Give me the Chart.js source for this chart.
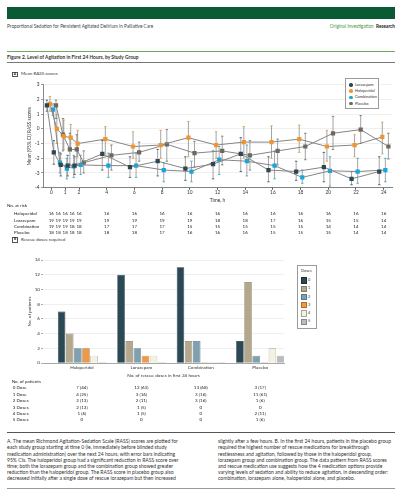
<!DOCTYPE html>
<html>
<head>
<meta charset="utf-8">
<script src="https://cdn.jsdelivr.net/npm/chart.js@4.4.0/dist/chart.umd.min.js"></script>
<style>
  html, body { margin: 0; padding: 0; background: #fff; }
  body { width: 405px; height: 500px; position: relative; overflow: hidden; font-family: Lato, "Open Sans", sans-serif; color: #222; }
  .lbl { position: absolute; white-space: nowrap; line-height: 1; }
  .rule { position: absolute; left: 7px; width: 388px; }
  canvas { position: absolute; }
  .tag { position: absolute; width: 4px; height: 3.6px; border: 0.6px solid #555; font-size: 3.4px; font-weight: 700; text-align: center; line-height: 3.8px; }
  .legend { position: absolute; border: 0.7px solid #9a9a9a; background: #fff; }
  .cap p { margin: 0; white-space: nowrap; }
</style>
</head>
<body>

<!-- page header -->
<div style="position:absolute;left:7px;top:6.7px;width:388px;height:12.6px;background:#0a5a34"></div>
<div class="lbl" style="left:7px;top:23.8px;font-size:4.7px;color:#444">Proportional Sedation for Persistent Agitated Delirium in Palliative Care</div>
<div class="lbl" style="right:10px;top:23.8px;font-size:4.7px"><span style="color:#4b9a45">Original Investigation</span>&nbsp;&nbsp;<span style="font-weight:700;color:#222">Research</span></div>
<div class="rule" style="top:50.5px;height:1px;background:#6cae55"></div>
<div class="lbl" style="left:7px;top:54.5px;font-size:4.9px;font-weight:700;color:#333">Figure 2. Level of Agitation in First 24 Hours, by Study Group</div>
<div class="rule" style="top:62px;height:0.7px;background:#777"></div>

<!-- panel A -->
<div class="tag" style="left:12px;top:71.8px">A</div>
<div class="lbl" style="left:21px;top:71.8px;font-size:4.5px;color:#333">Mean RASS scores</div>
<canvas id="rass-chart" width="378" height="126" style="left:27px;top:78px;width:378px;height:126px"></canvas>
<div class="legend" id="rass-legend" style="left:345px;top:78.3px;width:31.5px;height:29px"></div>
<div class="lbl" style="left:7px;top:203.8px;font-size:4.5px">No. at risk</div>

<!-- panel B -->
<div class="tag" style="left:12px;top:237.4px">B</div>
<div class="lbl" style="left:21px;top:237.6px;font-size:4.5px;color:#333">Rescue doses required</div>
<canvas id="dose-chart" width="265" height="126" style="left:27px;top:252px;width:265px;height:126px"></canvas>
<div class="legend" id="dose-legend" style="left:296.5px;top:265px;width:18.5px;height:61.5px"></div>
<div class="lbl" style="left:11.7px;top:380px;font-size:4.5px">No. of patients</div>

<div class="rule" style="top:431.8px;height:0.8px;background:#555"></div>
<div class="cap lbl" style="left:7px;top:438.2px;font-size:5.05px;line-height:6.15px;color:#333">
<p>A. The mean Richmond Agitation-Sedation Scale (RASS) scores are plotted for</p>
<p>each study group starting at time 0 (ie, immediately before blinded study</p>
<p>medication administration) over the next 24 hours, with error bars indicating</p>
<p>95% CIs. The haloperidol group had a significant reduction in RASS score over</p>
<p>time; both the lorazepam group and the combination group showed greater</p>
<p>reduction than the haloperidol group. The RASS score in placebo group also</p>
<p>decreased initially after a single dose of rescue lorazepam but then increased</p>
</div>
<div class="cap lbl" style="left:218px;top:438.2px;font-size:5.05px;line-height:6.15px;color:#333">
<p>slightly after a few hours. B. In the first 24 hours, patients in the placebo group</p>
<p>required the highest number of rescue medications for breakthrough</p>
<p>restlessness and agitation, followed by those in the haloperidol group,</p>
<p>lorazepam group and combination group. The data pattern from RASS scores</p>
<p>and rescue medication use suggests how the 4 medication options provide</p>
<p>varying levels of sedation and ability to reduce agitation, in descending order:</p>
<p>combination, lorazepam alone, haloperidol alone, and placebo.</p>
</div>
<div class="rule" style="top:487.8px;height:0.7px;background:#999"></div>

<script>
// ---- Data: panel A, mean RASS (95% CI) ----
const times = [0, 0.5, 1, 1.5, 2, 4, 6, 8, 10, 12, 14, 16, 18, 20, 22, 24];
const timeTicks = [0, 1, 2, 4, 6, 8, 10, 12, 14, 16, 18, 20, 22, 24];

const lorazepamMean = [1.6, -1.6, -2.45, -2.5, -2.5, -1.7, -2.6, -2.2, -2.7, -2.4, -1.7, -2.8, -2.9, -2.6, -3.4, -2.9];
const lorazepamLow  = [1.2, -2.4, -3.2, -3.2, -3.1, -2.8, -3.3, -3.2, -3.5, -3.4, -2.9, -3.6, -3.5, -3.6, -3.8, -3.8];
const lorazepamHigh = [1.95, -0.8, -1.7, -1.8, -1.9, -0.8, -1.9, -1.4, -1.9, -1.5, -0.6, -1.9, -2.2, -1.6, -2.9, -1.9];

const haloperidolMean = [1.7, 0.0, -0.5, -0.6, -1.0, -0.7, -1.2, -1.1, -0.6, -1.1, -0.9, -0.9, -0.7, -1.2, -1.1, -0.55];
const haloperidolLow  = [1.2, -1.0, -1.4, -1.5, -1.9, -1.7, -2.0, -2.0, -1.9, -2.0, -2.0, -2.0, -1.6, -2.2, -1.9, -1.7];
const haloperidolHigh = [2.2, 1.0, 0.6, 0.3, -0.1, 0.15, -0.2, -0.1, 0.5, -0.2, 0.15, 0.2, 0.25, -0.1, -0.4, 0.45];

const combinationMean = [1.3, -2.3, -2.7, -2.55, -2.45, -2.5, -2.5, -2.8, -2.9, -2.1, -2.2, -2.5, -3.3, -2.85, -2.9, -2.8];
const combinationLow  = [0.9, -3.0, -3.4, -3.3, -3.1, -3.3, -3.3, -3.6, -3.6, -3.1, -3.2, -3.4, -3.7, -3.9, -3.7, -3.6];
const combinationHigh = [1.7, -1.6, -2.0, -1.8, -1.8, -1.65, -1.65, -2.3, -2.2, -1.2, -1.1, -1.5, -2.8, -1.9, -2.0, -2.0];

const placeboMean = [1.6, -0.4, -1.4, -1.4, -2.3, -1.8, -1.6, -1.05, -1.65, -1.5, -1.8, -1.5, -1.2, -0.3, -0.05, -1.2];
const placeboLow  = [0.7, -1.5, -2.4, -2.4, -3.0, -2.8, -2.2, -2.2, -2.6, -2.45, -2.8, -2.45, -2.1, -1.4, -1.0, -2.05];
const placeboHigh = [1.95, 0.7, -0.3, -0.4, -1.5, -1.1, -0.9, -0.05, -0.85, -0.5, -0.8, -0.7, -0.3, 0.85, 0.9, -0.3];

// No. at risk rows (table order)
const riskGroups = ['Haloperidol', 'Lorazepam', 'Combination', 'Placebo'];
const riskHaloperidol = [16, 16, 16, 16, 16, 16, 16, 16, 16, 16, 16, 16, 16, 16, 16, 16];
const riskLorazepam   = [19, 19, 19, 19, 19, 19, 19, 19, 19, 18, 18, 17, 16, 15, 15, 14];
const riskCombination = [19, 19, 19, 18, 18, 17, 17, 17, 15, 15, 15, 15, 15, 14, 14, 14];
const riskPlacebo     = [18, 18, 18, 18, 18, 18, 18, 17, 16, 16, 16, 15, 15, 15, 14, 14];

// ---- Data: panel B, rescue doses ----
const doseGroups = ['Haloperidol', 'Lorazepam', 'Combination', 'Placebo'];
const groupSizes = [16, 19, 19, 18];
const doseLabels = ['0', '1', '2', '3', '4', '5'];
const doseRowNames = ['0 Dose', '1 Dose', '2 Doses', '3 Doses', '4 Doses', '5 Doses'];
const dose0 = [7, 12, 13, 3];
const dose1 = [4, 3, 3, 11];
const dose2 = [2, 2, 3, 1];
const dose3 = [2, 1, 0, 0];
const dose4 = [1, 1, 0, 2];
const dose5 = [0, 0, 0, 1];

// ---- Styles ----
const FONT = 'Lato, "Open Sans", sans-serif';
Chart.defaults.font.family = FONT;
Chart.defaults.color = '#333';

const rassSeries = [
    { label: 'Lorazepam',   mean: lorazepamMean,   low: lorazepamLow,   high: lorazepamHigh,   color: '#2c4653', shift: -0.32 },
    { label: 'Haloperidol', mean: haloperidolMean, low: haloperidolLow, high: haloperidolHigh, color: '#f0952f', shift: -0.1 },
    { label: 'Combination', mean: combinationMean, low: combinationLow, high: combinationHigh, color: '#17a6dc', shift: 0.12 },
    { label: 'Placebo',     mean: placeboMean,     low: placeboLow,     high: placeboHigh,     color: '#6e695f', shift: 0.34 }
];
const doseColors = ['#2b4855', '#b3a88d', '#7ea0b1', '#ec9a48', '#f4f1e3', '#b9bbbd'];
const doseBorders = ['#1b2f38', '#877c62', '#5a7a8a', '#b56f2c', '#aaa592', '#85878a'];

// error bars drawn from the y scale, under the lines and points
const errorBars = {
    id: 'errorBars',
    beforeDatasetsDraw(chart) {
        const ctx = chart.ctx;
        const yScale = chart.scales.y;
        chart.data.datasets.forEach((ds, di) => {
            const meta = chart.getDatasetMeta(di);
            meta.data.forEach((pt, i) => {
                const raw = ds.data[i];
                const yLo = yScale.getPixelForValue(raw.lo);
                const yHi = yScale.getPixelForValue(raw.hi);
                ctx.save();
                ctx.strokeStyle = '#7d7d7d';
                ctx.lineWidth = 0.7;
                ctx.beginPath();
                ctx.moveTo(pt.x, yLo);
                ctx.lineTo(pt.x, yHi);
                ctx.stroke();
                ctx.strokeStyle = ds.capColor;
                ctx.lineWidth = 0.8;
                ctx.beginPath();
                ctx.moveTo(pt.x - 1.2, yLo); ctx.lineTo(pt.x + 1.2, yLo);
                ctx.moveTo(pt.x - 1.2, yHi); ctx.lineTo(pt.x + 1.2, yHi);
                ctx.stroke();
                ctx.restore();
            });
        });
    }
};

// ---- Panel A chart ----
const rassChart = new Chart(document.getElementById('rass-chart'), {
    type: 'line',
    data: {
        datasets: rassSeries.map(s => ({
            label: s.label,
            data: times.map((t, i) => ({ x: t + s.shift, y: s.mean[i], lo: s.low[i], hi: s.high[i] })),
            borderColor: '#858585',
            borderWidth: 1,
            backgroundColor: s.color,
            capColor: s.color,
            pointStyle: 'rect',
            pointRadius: 3,
            pointBorderWidth: 0,
            tension: 0
        }))
    },
    options: {
        responsive: false,
        animation: false,
        layout: { padding: { top: 6.7, right: 13, left: 0, bottom: 0 } },
        plugins: { legend: { display: false }, tooltip: { enabled: false } },
        scales: {
            x: {
                type: 'linear',
                min: -0.6,
                max: 24.6,
                afterBuildTicks: scale => { scale.ticks = timeTicks.map(v => ({ value: v })); },
                afterFit: scale => { scale.height = 16.3; },
                ticks: { autoSkip: false, maxRotation: 0, padding: 0, font: { size: 4.8 } },
                grid: { drawOnChartArea: false, drawTicks: true, tickLength: 2, tickColor: '#555' },
                border: { display: true, color: '#555', width: 0.7 },
                title: { display: true, text: 'Time, h', padding: { top: 1, bottom: 1 }, font: { size: 4.8 } }
            },
            y: {
                min: -4,
                max: 3,
                afterFit: scale => { scale.width = 16; },
                ticks: { stepSize: 1, padding: 1.5, font: { size: 4.8 } },
                grid: { color: '#e4e4e4', lineWidth: 0.6, drawTicks: true, tickLength: 2, tickColor: '#555' },
                border: { display: true, color: '#555', width: 0.7 },
                title: { display: true, text: 'Mean (95% CI) RASS scores', padding: 0, font: { size: 4.8 } }
            }
        }
    },
    plugins: [errorBars]
});

// ---- Panel B chart ----
const doseSeries = [dose0, dose1, dose2, dose3, dose4, dose5];
const doseChart = new Chart(document.getElementById('dose-chart'), {
    type: 'bar',
    data: {
        datasets: doseSeries.map((vals, d) => ({
            label: doseLabels[d],
            data: vals.map((v, g) => ({ x: g, y: v })),
            backgroundColor: doseColors[d],
            borderColor: doseBorders[d],
            borderWidth: 0.7,
            minBarLength: 0.8,
            categoryPercentage: 0.82,
            barPercentage: 0.93
        }))
    },
    options: {
        responsive: false,
        animation: false,
        layout: { padding: { top: 8, right: 8, left: 0, bottom: 0 } },
        plugins: { legend: { display: false }, tooltip: { enabled: false } },
        scales: {
            x: {
                type: 'linear',
                offset: false,
                min: -0.655,
                max: 3.4,
                afterBuildTicks: scale => { scale.ticks = doseGroups.map((g, i) => ({ value: i })); },
                afterFit: scale => { scale.height = 15; },
                ticks: { autoSkip: false, maxRotation: 0, padding: 2, font: { size: 4.6 }, callback: v => doseGroups[v] },
                grid: { display: false, drawTicks: false },
                border: { display: true, color: '#888', width: 0.7 },
                title: { display: true, text: 'No. of rescue doses in first 24 hours', padding: { top: 0.5, bottom: 0 }, font: { size: 4.6 } }
            },
            y: {
                min: 0,
                max: 14,
                afterFit: scale => { scale.width = 16; },
                ticks: { stepSize: 2, padding: 1, font: { size: 4.6 } },
                grid: { color: '#e4e4e4', lineWidth: 0.6, drawTicks: true, tickLength: 2, tickColor: '#777' },
                border: { display: false },
                title: { display: true, text: 'No. of patients', padding: 0, font: { size: 4.6 } }
            }
        }
    }
});

// ---- HTML text helpers ----
function addText(txt, x, y, size, center) {
    const el = document.createElement('div');
    el.className = 'lbl';
    el.textContent = txt;
    el.style.left = x + 'px';
    el.style.top = y + 'px';
    el.style.fontSize = size + 'px';
    el.style.transform = center ? 'translate(-50%,-50%)' : 'translateY(-50%)';
    document.body.appendChild(el);
    return el;
}

// No. at risk table, columns follow the time axis
const riskRows = [riskHaloperidol, riskLorazepam, riskCombination, riskPlacebo];
const riskY = [214.3, 220.7, 226.7, 232.7];
riskRows.forEach((row, r) => {
    addText(riskGroups[r], 14, riskY[r], 4.5, false);
    row.forEach((n, i) => {
        const x = 27 + rassChart.scales.x.getPixelForValue(times[i]);
        addText(String(n), x, riskY[r], 4.5, true);
    });
});

// No. of patients table, columns follow bar groups
const patY = [388.3, 395, 401.3, 407.6, 413.8, 420];
doseSeries.forEach((vals, d) => {
    addText(doseRowNames[d], 12.7, patY[d], 4.5, false);
    vals.forEach((c, g) => {
        const x = 27 + doseChart.scales.x.getPixelForValue(g);
        const txt = c === 0 ? '0' : `${c} (${Math.round(100 * c / groupSizes[g])})`;
        addText(txt, x, patY[d], 4.5, true);
    });
});

// Legends
const rassLegend = document.getElementById('rass-legend');
rassSeries.forEach((s, i) => {
    const y = 5.7 + i * 6.2;
    const dot = document.createElement('div');
    dot.style.cssText = `position:absolute;left:3.4px;top:${y - 1.7}px;width:3.4px;height:3.4px;border-radius:50%;background:${s.color}`;
    rassLegend.appendChild(dot);
    const t = document.createElement('div');
    t.className = 'lbl';
    t.textContent = s.label;
    t.style.cssText += `left:9px;top:${y}px;font-size:3.9px;transform:translateY(-50%);color:#333`;
    rassLegend.appendChild(t);
});

const doseLegend = document.getElementById('dose-legend');
const dTitle = document.createElement('div');
dTitle.className = 'lbl';
dTitle.textContent = 'Doses';
dTitle.style.cssText += 'left:3.5px;top:5px;font-size:3.9px;transform:translateY(-50%);color:#333';
doseLegend.appendChild(dTitle);
doseLabels.forEach((lab, d) => {
    const y = 14 + d * 8.25;
    const sw = document.createElement('div');
    sw.style.cssText = `position:absolute;left:3.5px;top:${y - 2.6}px;width:4.2px;height:4.2px;background:${doseColors[d]};border:0.6px solid ${doseBorders[d]}`;
    doseLegend.appendChild(sw);
    const t = document.createElement('div');
    t.className = 'lbl';
    t.textContent = lab;
    t.style.cssText += `left:10.5px;top:${y}px;font-size:3.9px;transform:translateY(-50%);color:#333`;
    doseLegend.appendChild(t);
});
</script>
</body>
</html>
